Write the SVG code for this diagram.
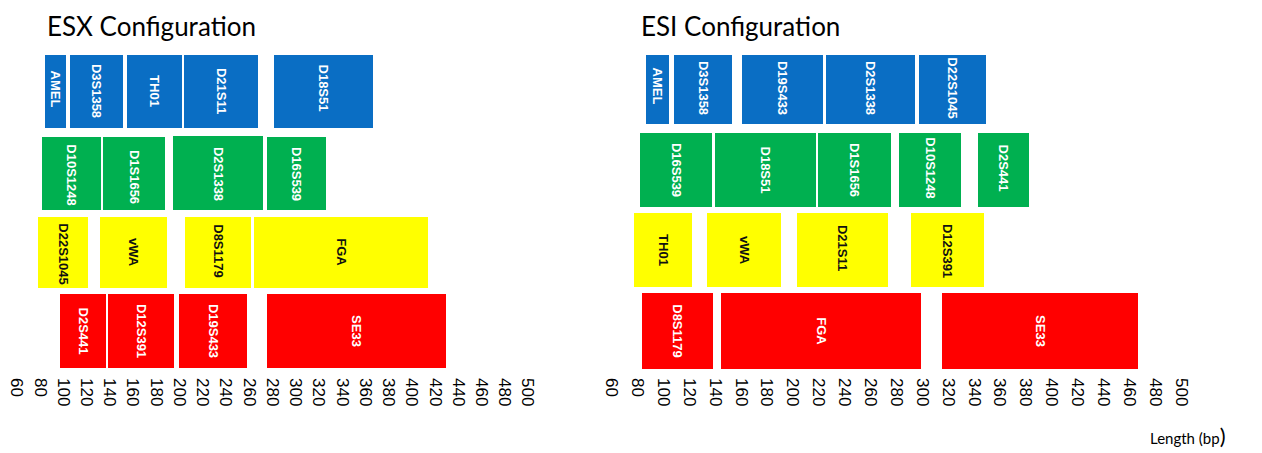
<svg xmlns="http://www.w3.org/2000/svg" width="1262" height="453" viewBox="0 0 1262 453">
<style>
.b{fill:#0A6EC4}
.g{fill:#00B050}
.y{fill:#FFFF00}
.r{fill:#FF0000}
.lw{font-family:"Liberation Sans",Arial,sans-serif;font-weight:bold;font-size:13px;fill:#fff;text-anchor:middle;dominant-baseline:central}
.lk{font-family:"Liberation Sans",Arial,sans-serif;font-weight:bold;font-size:13px;fill:#111;text-anchor:middle;dominant-baseline:central}
.ax{font-family:"Liberation Sans",Arial,sans-serif;font-size:17px;fill:#000;dominant-baseline:central}
.title{font-family:Lato,"Open Sans",sans-serif;font-size:26px;fill:#000}
</style>
<rect width="1262" height="453" fill="#fff"/>
<text class="title" x="47" y="36">ESX Configuration</text>
<text class="title" x="641" y="36">ESI Configuration</text>

<g id="esx">
<g id="esx-AMEL"><rect class="b" x="45" y="55" width="21" height="73"/><text class="lw" transform="translate(55.5,89) rotate(90)">AMEL</text></g>
<g id="esx-D3S1358"><rect class="b" x="70" y="55" width="53" height="73"/><text class="lw" transform="translate(96.5,91) rotate(90)">D3S1358</text></g>
<g id="esx-TH01"><rect class="b" x="127" y="55" width="55" height="73"/><text class="lw" transform="translate(154.5,91) rotate(90)">TH01</text></g>
<g id="esx-D21S11"><rect class="b" x="184" y="55" width="74" height="73"/><text class="lw" transform="translate(221,91) rotate(90)">D21S11</text></g>
<g id="esx-D18S51"><rect class="b" x="274" y="55" width="99" height="73"/><text class="lw" transform="translate(323.5,88) rotate(90)">D18S51</text></g>

<g id="esx-D10S1248"><rect class="g" x="42" y="137" width="59" height="73"/><text class="lw" transform="translate(71.5,175) rotate(90)">D10S1248</text></g>
<g id="esx-D1S1656"><rect class="g" x="103" y="137" width="62" height="73"/><text class="lw" transform="translate(134,177) rotate(90)">D1S1656</text></g>
<g id="esx-D2S1338"><rect class="g" x="173" y="136" width="90" height="74"/><text class="lw" transform="translate(218,174) rotate(90)">D2S1338</text></g>
<g id="esx-D16S539"><rect class="g" x="267" y="137" width="59" height="73"/><text class="lw" transform="translate(296.5,174) rotate(90)">D16S539</text></g>

<g id="esx-D22S1045"><rect class="y" x="38" y="217" width="50" height="71"/><text class="lk" transform="translate(63,254) rotate(90)">D22S1045</text></g>
<g id="esx-vWA"><rect class="y" x="100" y="217" width="67" height="71"/><text class="lk" transform="translate(133.5,252) rotate(90)">vWA</text></g>
<g id="esx-D8S1179"><rect class="y" x="185" y="217" width="66" height="71"/><text class="lk" transform="translate(218,251) rotate(90)">D8S1179</text></g>
<g id="esx-FGA"><rect class="y" x="254" y="217" width="174" height="71"/><text class="lk" transform="translate(341,252) rotate(90)">FGA</text></g>

<g id="esx-D2S441"><rect class="r" x="60" y="294" width="46" height="74"/><text class="lw" transform="translate(83,331) rotate(90)">D2S441</text></g>
<g id="esx-D12S391"><rect class="r" x="108" y="294" width="66" height="74"/><text class="lw" transform="translate(141,331) rotate(90)">D12S391</text></g>
<g id="esx-D19S433"><rect class="r" x="179" y="294" width="68" height="74"/><text class="lw" transform="translate(213,331) rotate(90)">D19S433</text></g>
<g id="esx-SE33"><rect class="r" x="267" y="294" width="179" height="74"/><text class="lw" transform="translate(356.5,331) rotate(90)">SE33</text></g>
</g>

<g id="esi">
<g id="esi-AMEL"><rect class="b" x="646" y="55" width="23" height="69"/><text class="lw" transform="translate(657.5,86) rotate(90)">AMEL</text></g>
<g id="esi-D3S1358"><rect class="b" x="674" y="55" width="58" height="69"/><text class="lw" transform="translate(703,88) rotate(90)">D3S1358</text></g>
<g id="esi-D19S433"><rect class="b" x="742" y="55" width="81" height="69"/><text class="lw" transform="translate(782.5,88) rotate(90)">D19S433</text></g>
<g id="esi-D2S1338"><rect class="b" x="826" y="55" width="89" height="69"/><text class="lw" transform="translate(870.5,88) rotate(90)">D2S1338</text></g>
<g id="esi-D22S1045"><rect class="b" x="919" y="55" width="67" height="69"/><text class="lw" transform="translate(952.5,88) rotate(90)">D22S1045</text></g>

<g id="esi-D16S539"><rect class="g" x="640" y="133" width="72" height="74"/><text class="lw" transform="translate(676,170) rotate(90)">D16S539</text></g>
<g id="esi-D18S51"><rect class="g" x="715" y="133" width="101" height="74"/><text class="lw" transform="translate(765.5,170) rotate(90)">D18S51</text></g>
<g id="esi-D1S1656"><rect class="g" x="818" y="133" width="73" height="74"/><text class="lw" transform="translate(854.5,170) rotate(90)">D1S1656</text></g>
<g id="esi-D10S1248"><rect class="g" x="899" y="133" width="62" height="74"/><text class="lw" transform="translate(930,168) rotate(90)">D10S1248</text></g>
<g id="esi-D2S441"><rect class="g" x="978" y="133" width="51" height="74"/><text class="lw" transform="translate(1003.5,168) rotate(90)">D2S441</text></g>

<g id="esi-TH01"><rect class="y" x="634" y="213" width="58" height="74"/><text class="lk" transform="translate(663,250) rotate(90)">TH01</text></g>
<g id="esi-vWA"><rect class="y" x="707" y="213" width="74" height="74"/><text class="lk" transform="translate(744,250) rotate(90)">vWA</text></g>
<g id="esi-D21S11"><rect class="y" x="797" y="213" width="91" height="74"/><text class="lk" transform="translate(842.5,248) rotate(90)">D21S11</text></g>
<g id="esi-D12S391"><rect class="y" x="911" y="213" width="73" height="74"/><text class="lk" transform="translate(947.5,251) rotate(90)">D12S391</text></g>

<g id="esi-D8S1179"><rect class="r" x="642" y="293" width="71" height="76"/><text class="lw" transform="translate(677.5,331) rotate(90)">D8S1179</text></g>
<g id="esi-FGA"><rect class="r" x="721" y="293" width="200" height="76"/><text class="lw" transform="translate(821,331) rotate(90)">FGA</text></g>
<g id="esi-SE33"><rect class="r" x="942" y="293" width="196" height="76"/><text class="lw" transform="translate(1040,331) rotate(90)">SE33</text></g>
</g>

<g id="axis-esx" class="ax">
<text transform="translate(16.8,378) rotate(90)">60</text>
<text transform="translate(40,378) rotate(90)">80</text>
<text transform="translate(63.2,378) rotate(90)">100</text>
<text transform="translate(86.5,378) rotate(90)">120</text>
<text transform="translate(109.7,378) rotate(90)">140</text>
<text transform="translate(132.9,378) rotate(90)">160</text>
<text transform="translate(156.2,378) rotate(90)">180</text>
<text transform="translate(179.4,378) rotate(90)">200</text>
<text transform="translate(202.6,378) rotate(90)">220</text>
<text transform="translate(225.9,378) rotate(90)">240</text>
<text transform="translate(249.1,378) rotate(90)">260</text>
<text transform="translate(272.3,378) rotate(90)">280</text>
<text transform="translate(295.6,378) rotate(90)">300</text>
<text transform="translate(318.8,378) rotate(90)">320</text>
<text transform="translate(342,378) rotate(90)">340</text>
<text transform="translate(365.3,378) rotate(90)">360</text>
<text transform="translate(388.5,378) rotate(90)">380</text>
<text transform="translate(411.7,378) rotate(90)">400</text>
<text transform="translate(435,378) rotate(90)">420</text>
<text transform="translate(458.2,378) rotate(90)">440</text>
<text transform="translate(481.4,378) rotate(90)">460</text>
<text transform="translate(504.7,378) rotate(90)">480</text>
<text transform="translate(527.9,378) rotate(90)">500</text>
</g>

<g id="axis-esi" class="ax">
<text transform="translate(611.5,378) rotate(90)">60</text>
<text transform="translate(637.4,378) rotate(90)">80</text>
<text transform="translate(663.3,378) rotate(90)">100</text>
<text transform="translate(689.2,378) rotate(90)">120</text>
<text transform="translate(715.1,378) rotate(90)">140</text>
<text transform="translate(741,378) rotate(90)">160</text>
<text transform="translate(766.9,378) rotate(90)">180</text>
<text transform="translate(792.8,378) rotate(90)">200</text>
<text transform="translate(818.7,378) rotate(90)">220</text>
<text transform="translate(844.6,378) rotate(90)">240</text>
<text transform="translate(870.4,378) rotate(90)">260</text>
<text transform="translate(896.3,378) rotate(90)">280</text>
<text transform="translate(922.2,378) rotate(90)">300</text>
<text transform="translate(948.1,378) rotate(90)">320</text>
<text transform="translate(974,378) rotate(90)">340</text>
<text transform="translate(999.9,378) rotate(90)">360</text>
<text transform="translate(1025.8,378) rotate(90)">380</text>
<text transform="translate(1051.7,378) rotate(90)">400</text>
<text transform="translate(1077.6,378) rotate(90)">420</text>
<text transform="translate(1103.5,378) rotate(90)">440</text>
<text transform="translate(1129.4,378) rotate(90)">460</text>
<text transform="translate(1155.2,378) rotate(90)">480</text>
<text transform="translate(1181.1,378) rotate(90)">500</text>
</g>

<text x="1150" y="444" font-family="Lato,'Open Sans',sans-serif" font-size="15" fill="#000">Length (bp<tspan font-size="22">)</tspan></text>
</svg>
